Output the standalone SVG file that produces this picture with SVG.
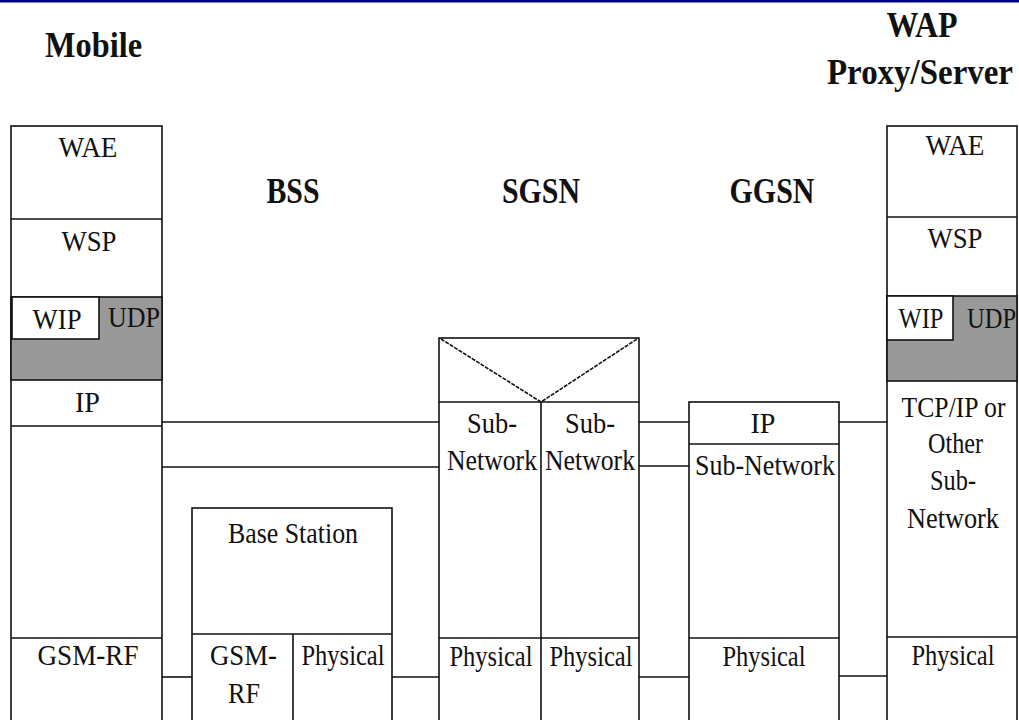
<svg xmlns="http://www.w3.org/2000/svg" width="1019" height="720" viewBox="0 0 1019 720">
<style>
.b{fill:#fff;stroke:#111;stroke-width:1.6}
.g{fill:#999;stroke:#111;stroke-width:1.6}
.ln{stroke:#111;stroke-width:1.6;fill:none}
.t{font-family:"Liberation Serif","Times New Roman",serif;font-size:30px;fill:#111;text-anchor:middle}
.s{text-anchor:start}
.h{font-family:"Liberation Serif","Times New Roman",serif;font-size:35px;font-weight:bold;fill:#111;text-anchor:middle}
</style>
<rect x="0" y="0" width="1019" height="720" fill="#fff"/>
<rect x="0" y="0" width="1019" height="2.5" fill="#000080"/>

<g id="headers">
<text class="h" x="93.5" y="57" textLength="97" lengthAdjust="spacingAndGlyphs">Mobile</text>
<text class="h" x="922" y="37" textLength="71" lengthAdjust="spacingAndGlyphs">WAP</text>
<text class="h" x="920" y="84" textLength="186" lengthAdjust="spacingAndGlyphs">Proxy/Server</text>
<text class="h" x="293" y="203" textLength="53" lengthAdjust="spacingAndGlyphs">BSS</text>
<text class="h" x="541" y="203" textLength="78" lengthAdjust="spacingAndGlyphs">SGSN</text>
<text class="h" x="772" y="203" textLength="85" lengthAdjust="spacingAndGlyphs">GGSN</text>
</g>

<g id="connectors">
<line class="ln" x1="162" y1="422" x2="439" y2="422"/>
<line class="ln" x1="160" y1="467" x2="439" y2="467"/>
<line class="ln" x1="160" y1="677" x2="192" y2="677"/>
<line class="ln" x1="392" y1="677" x2="439" y2="677"/>
<line class="ln" x1="639" y1="422" x2="689" y2="422"/>
<line class="ln" x1="639" y1="466" x2="689" y2="466"/>
<line class="ln" x1="639" y1="677" x2="689" y2="677"/>
<line class="ln" x1="839" y1="422" x2="887" y2="422"/>
<line class="ln" x1="839" y1="676" x2="887" y2="676"/>
</g>

<g id="mobile">
<rect class="b" x="11" y="126" width="151" height="610"/>
<rect class="g" x="11" y="297" width="151" height="83"/>
<rect class="b" x="12" y="297" width="87" height="42"/>
<line class="ln" x1="11" y1="219" x2="162" y2="219"/>
<line class="ln" x1="11" y1="426" x2="162" y2="426"/>
<line class="ln" x1="11" y1="638" x2="162" y2="638"/>
<text class="t" x="88" y="157" textLength="59" lengthAdjust="spacingAndGlyphs">WAE</text>
<text class="t" x="89" y="251" textLength="55" lengthAdjust="spacingAndGlyphs">WSP</text>
<text class="t" x="57" y="329" textLength="49" lengthAdjust="spacingAndGlyphs">WIP</text>
<text class="t s" x="108" y="327" textLength="52" lengthAdjust="spacingAndGlyphs">UDP</text>
<text class="t" x="87.5" y="412" textLength="25" lengthAdjust="spacingAndGlyphs">IP</text>
<text class="t" x="88" y="665" textLength="101" lengthAdjust="spacingAndGlyphs">GSM-RF</text>
</g>

<g id="bss">
<rect class="b" x="192" y="508" width="200" height="230"/>
<line class="ln" x1="192" y1="634" x2="392" y2="634"/>
<line class="ln" x1="293" y1="634" x2="293" y2="738"/>
<text class="t" x="293" y="543" textLength="130" lengthAdjust="spacingAndGlyphs">Base Station</text>
<text class="t" x="243.5" y="665" textLength="67" lengthAdjust="spacingAndGlyphs">GSM-</text>
<text class="t" x="244" y="703" textLength="32" lengthAdjust="spacingAndGlyphs">RF</text>
<text class="t" x="343" y="665" textLength="83" lengthAdjust="spacingAndGlyphs">Physical</text>
</g>

<g id="sgsn">
<rect class="b" x="439" y="338" width="200" height="400"/>
<line class="ln" x1="439" y1="402" x2="639" y2="402"/>
<line class="ln" x1="541" y1="402" x2="541" y2="738"/>
<line class="ln" x1="439" y1="638" x2="639" y2="638"/>
<path class="ln" d="M441 339 L541 402 L637 339" stroke-width="1.2" stroke-dasharray="4 1.2"/>
<text class="t" x="492" y="433" textLength="50" lengthAdjust="spacingAndGlyphs">Sub-</text>
<text class="t" x="492" y="470" textLength="90" lengthAdjust="spacingAndGlyphs">Network</text>
<text class="t" x="590" y="433" textLength="50" lengthAdjust="spacingAndGlyphs">Sub-</text>
<text class="t" x="590" y="470" textLength="90" lengthAdjust="spacingAndGlyphs">Network</text>
<text class="t" x="491" y="666" textLength="83" lengthAdjust="spacingAndGlyphs">Physical</text>
<text class="t" x="591" y="666" textLength="83" lengthAdjust="spacingAndGlyphs">Physical</text>
</g>

<g id="ggsn">
<rect class="b" x="689" y="402" width="150" height="336"/>
<line class="ln" x1="689" y1="444" x2="839" y2="444"/>
<line class="ln" x1="689" y1="638" x2="839" y2="638"/>
<text class="t" x="763" y="433" textLength="25" lengthAdjust="spacingAndGlyphs">IP</text>
<text class="t" x="765" y="475" textLength="140" lengthAdjust="spacingAndGlyphs">Sub-Network</text>
<text class="t" x="764" y="666" textLength="83" lengthAdjust="spacingAndGlyphs">Physical</text>
</g>

<g id="wap">
<rect class="b" x="887" y="126" width="130" height="610"/>
<rect class="g" x="887" y="296" width="130" height="85"/>
<rect class="b" x="887" y="296" width="66" height="44"/>
<line class="ln" x1="887" y1="217" x2="1017" y2="217"/>
<line class="ln" x1="887" y1="637" x2="1017" y2="637"/>
<text class="t" x="955" y="155" textLength="59" lengthAdjust="spacingAndGlyphs">WAE</text>
<text class="t" x="955" y="248" textLength="55" lengthAdjust="spacingAndGlyphs">WSP</text>
<text class="t" x="921" y="328" textLength="45" lengthAdjust="spacingAndGlyphs">WIP</text>
<text class="t s" x="967" y="328" textLength="49" lengthAdjust="spacingAndGlyphs">UDP</text>
<text class="t" x="953.5" y="417" textLength="104" lengthAdjust="spacingAndGlyphs">TCP/IP or</text>
<text class="t" x="955.5" y="453" textLength="55" lengthAdjust="spacingAndGlyphs">Other</text>
<text class="t" x="953" y="490" textLength="46" lengthAdjust="spacingAndGlyphs">Sub-</text>
<text class="t" x="953" y="528" textLength="92" lengthAdjust="spacingAndGlyphs">Network</text>
<text class="t" x="953" y="665" textLength="83" lengthAdjust="spacingAndGlyphs">Physical</text>
</g>
</svg>
